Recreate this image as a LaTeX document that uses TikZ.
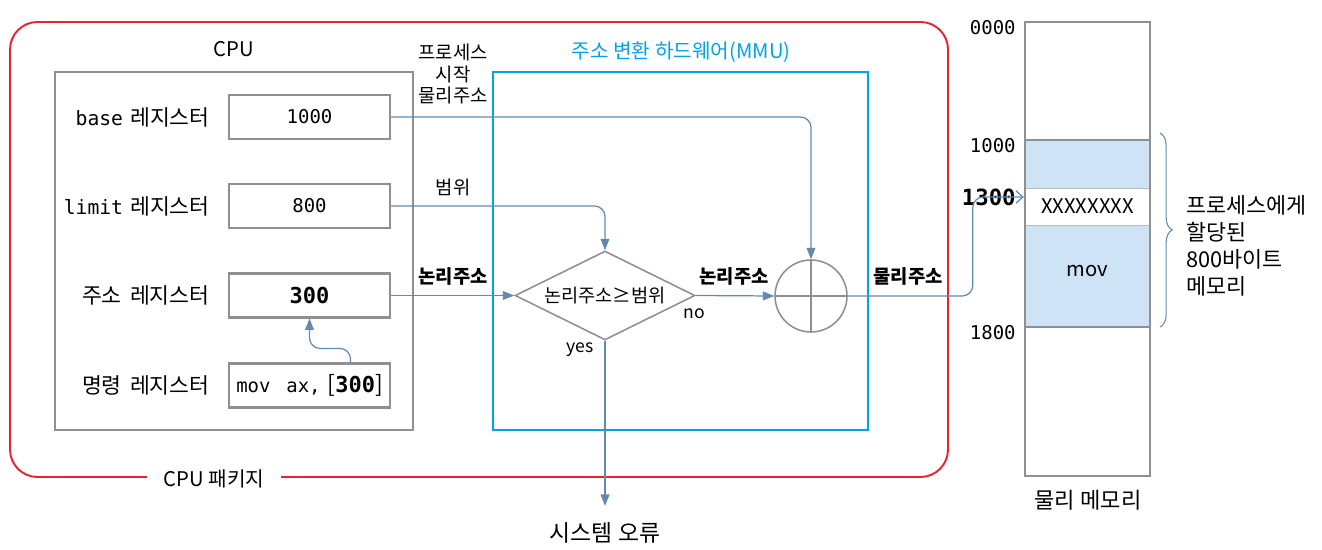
\documentclass[tikz,border=0pt]{standalone}
\usepackage{fontspec}
\setmainfont{Noto Sans CJK KR}
\newfontfamily\monofont{DejaVu Sans Mono}
\usetikzlibrary{shapes.geometric,arrows.meta,positioning,decorations.pathreplacing}
\definecolor{pkgred}{HTML}{E8232B}
\definecolor{mmublue}{HTML}{00A2E8}
\definecolor{boxgray}{HTML}{909094}
\definecolor{flow}{HTML}{6488B0}
\definecolor{memfill}{HTML}{CEE3F6}
\newcommand{\mono}[1]{{\monofont #1}}
\newcommand{\fsz}[1]{\fontsize{#1}{#1}\selectfont}

\begin{document}
\begin{tikzpicture}[x=0.02cm,y=-0.02cm,
  font=\fsz{11.5},
  reg/.style={draw=boxgray,line width=1.2pt,minimum width=3.22cm,minimum height=0.88cm,inner sep=0pt},
  regname/.style={anchor=east,inner sep=0pt,font=\fsz{12.3}},
  small/.style={font=\fsz{10.7},align=center,inner sep=0pt},
  addr/.style={anchor=east,inner sep=0pt,font=\monofont\fsz{10.8}},
  arr/.style={-{Triangle[length=6.5pt,width=5pt]},flow,line width=0.7pt,rounded corners=6pt}
]
\useasboundingbox (0,0) rectangle (1322,550);

% CPU package and the two hardware blocks
\draw[pkgred,line width=1.1pt,rounded corners=0.55cm] (10,22) rectangle (948,477);
\node[fill=white,inner xsep=0.34cm,inner ysep=2pt] (pkg) at (214,479) {CPU 패키지};
\node[draw=boxgray,line width=1.2pt,minimum width=7.16cm,minimum height=7.16cm] (cpu) at (234,251) {};
\node (cpulbl) at (234,49) {CPU};
\node[draw=mmublue,line width=1.3pt,minimum width=7.5cm,minimum height=7.16cm] (mmu) at (680.5,251) {};
\node[text=mmublue] (mmulbl) at (681,52) {주소 변환 하드웨어(MMU)};

% registers
\node[reg] (base) at (309.5,117) {\mono{\fsz{10.8}1000}};
\node[reg] (limit) at (309.5,206) {\mono{\fsz{10.8}800}};
\node[reg] (areg) at (309.5,295.5) {\mono{\fsz{12.5}\bfseries 300}};
\node[reg] (ireg) at (309.5,385.5) {\mono{\fsz{10.8}mov\hspace{2.5pt}\ ax,}\hspace{4pt}{\fsz{13}[}\mono{\fsz{12.5}\bfseries 300}{\fsz{13}]}};
\node[regname] (basen) at (210,117) {\mono{\fsz{11.2}base}\hspace{4pt}레지스터};
\node[regname] (limitn) at (210,206) {\mono{\fsz{11.2}limit}\hspace{4pt}레지스터};
\node[regname] (aregn) at (210,295.5) {주소\hspace{2pt} 레지스터};
\node[regname] (iregn) at (210,385.5) {명령\hspace{2pt} 레지스터};

% MMU parts
\node[diamond,draw=boxgray,line width=0.9pt,aspect=2,inner sep=0pt,
      minimum width=3.6cm,minimum height=1.78cm,font=\fsz{10.6}] (chk) at (605,295.5) {논리주소≥범위};
\node[circle,draw=boxgray,line width=0.9pt,minimum size=1.44cm,
      path picture={\draw[boxgray,line width=0.9pt]
        (path picture bounding box.north) -- (path picture bounding box.south)
        (path picture bounding box.west) -- (path picture bounding box.east);}] (add) at (811,296) {};
\node[font=\fsz{13}] (err) at (605,533) {시스템 오류};

% arrow labels
\node[small] (startlbl) at (453,74) {프로세스\\[1.5pt]시작\\[1.5pt]물리주소};
\node[small] (rangelbl) at (453,187) {범위};
\node[small,font=\fsz{10.7}\bfseries] (la1) at (453,276) {논리주소};
\node[small,font=\fsz{10.7}\bfseries] (la2) at (734,276) {논리주소};
\node[small,font=\fsz{10.7}\bfseries] (pa) at (908,276) {물리주소};
\node[small,font=\fsz{10}] (nolbl) at (694,314) {no};
\node[small,font=\fsz{10}] (yeslbl) at (580,350) {yes};

% physical memory
\fill[memfill] (1025,140) rectangle (1150,188);
\fill[memfill] (1025,225) rectangle (1150,327);
\draw[boxgray!60,line width=0.5pt] (1025,188) -- (1150,188) (1025,225) -- (1150,225);
\draw[boxgray,line width=1.2pt] (1025,140) -- (1150,140) (1025,327) -- (1150,327);
\node[draw=boxgray,line width=1.2pt,minimum width=2.5cm,minimum height=9.08cm] (mem) at (1087.5,249) {};
\node (xrow) at (1087.5,206.5) {XXXXXXXX};
\node (movw) at (1087.5,271) {mov};
\node[font=\fsz{12.6}] (memlbl) at (1088,500) {물리 메모리};
\node[addr] (a0) at (1016,28) {0000};
\node[addr] (a1) at (1016,146) {1000};
\node[addr,font=\monofont\fsz{12.7}\bfseries] (a13) at (1016,197) {1300};
\node[addr] (a18) at (1016,333) {1800};
\draw[flow,line width=0.6pt,decorate,decoration={brace,amplitude=7pt}] (1160,133) -- (1160,327);
\node[anchor=west,align=left,inner sep=0pt,font=\fsz{12.4}] (alloc) at (1186,246)
  {프로세스에게\\[3pt]할당된\\[3pt]800바이트\\[3pt]메모리};

% connectors
\draw[arr] (base.east) -| (add.north);
\draw[arr] (limit.east) -| (chk.north);
\draw[arr] (areg.east) -- (chk.west);
\draw[arr] (chk.east) -- (add.west);
\draw[arr,shorten >=6pt] (chk.south) -- (err.north);
\draw[arr] ([xshift=0.82cm]ireg.north) -- ++(0,-14) -| (areg.south);
\draw[flow,line width=0.7pt,rounded corners=6pt,-{Straight Barb[length=4pt,width=7pt]}]
  (add.east) -- ++(125,0) |- (a13.east -| mem.west);
\end{tikzpicture}
\end{document}
